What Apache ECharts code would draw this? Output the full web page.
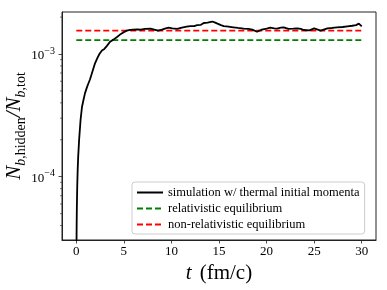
<!DOCTYPE html>
<html>
<head>
<meta charset="utf-8">
<script src="https://cdn.jsdelivr.net/npm/echarts@6/dist/echarts.min.js"></script>
<style>
html,body{margin:0;padding:0;background:#fff;}
#c{width:387px;height:290px;}
</style>
</head>
<body>
<div id="c"></div>
<script>
// ---- data ----
var time = [0, 0.02, 0.04, 0.06, 0.1, 0.15, 0.2, 0.3, 0.45, 0.6, 0.75, 0.92, 1.1, 1.25, 1.44, 1.7, 1.97, 2.2, 2.43, 2.7, 2.95, 3.2, 3.55, 3.9, 4.25, 4.6, 4.95, 5.3, 5.66, 6.0, 6.4, 6.8, 7.2, 7.8, 8.2, 8.6, 9.0, 9.4, 9.7, 10.1, 10.6, 11.1, 11.6, 12.0, 12.4, 12.7, 13.1, 13.4, 13.8, 14.3, 14.6, 14.8, 15.2, 15.5, 16.0, 16.5, 17.0, 17.6, 18.1, 18.5, 19.0, 19.5, 20.0, 20.4, 20.8, 21.1, 21.5, 21.8, 22.3, 22.8, 23.2, 23.6, 23.9, 24.5, 25.0, 25.3, 25.7, 26.0, 26.4, 26.9, 27.4, 28.0, 28.5, 29.0, 29.4, 29.7, 30.0];
var simulation = [1e-6, 2.5e-5, 4e-5, 5.5e-5, 8.3e-5, 1.15e-4, 1.45e-4, 2.0e-4, 2.9e-4, 3.7e-4, 4.2e-4, 4.8e-4, 5.3e-4, 5.7e-4, 6.2e-4, 7.2e-4, 8.4e-4, 9.2e-4, 1.0e-3, 1.07e-3, 1.1e-3, 1.16e-3, 1.26e-3, 1.31e-3, 1.37e-3, 1.44e-3, 1.5e-3, 1.55e-3, 1.57e-3, 1.58e-3, 1.59e-3, 1.58e-3, 1.6e-3, 1.61e-3, 1.58e-3, 1.55e-3, 1.58e-3, 1.62e-3, 1.64e-3, 1.62e-3, 1.6e-3, 1.64e-3, 1.67e-3, 1.69e-3, 1.69e-3, 1.72e-3, 1.73e-3, 1.79e-3, 1.8e-3, 1.84e-3, 1.8e-3, 1.76e-3, 1.72e-3, 1.69e-3, 1.67e-3, 1.65e-3, 1.63e-3, 1.61e-3, 1.6e-3, 1.58e-3, 1.52e-3, 1.58e-3, 1.61e-3, 1.64e-3, 1.62e-3, 1.61e-3, 1.64e-3, 1.65e-3, 1.6e-3, 1.61e-3, 1.62e-3, 1.6e-3, 1.57e-3, 1.56e-3, 1.62e-3, 1.59e-3, 1.55e-3, 1.58e-3, 1.62e-3, 1.63e-3, 1.65e-3, 1.66e-3, 1.68e-3, 1.7e-3, 1.72e-3, 1.77e-3, 1.68e-3];
var tStart = 0, tEnd = 30;
var relativisticEq = 1.30e-3;
var nonRelativisticEq = 1.55e-3;
var xTicks = [0, 5, 10, 15, 20, 25, 30];
var yMajorTicks = [1e-4, 1e-3];
var yMinorTicks = [4e-5, 5e-5, 6e-5, 7e-5, 8e-5, 9e-5, 2e-4, 3e-4, 4e-4, 5e-4, 6e-4, 7e-4, 8e-4, 9e-4, 2e-3];
var seriesNames = ['simulation w/ thermal initial momenta', 'relativistic equilibrium', 'non-relativistic equilibrium'];

var xMin = -1.5, xMax = 31.5, yMin = 3.05e-5, yMax = 2.2e-3;
var FONT = 'Liberation Serif';

var simData = time.map(function (t, i) { return [t, simulation[i]]; });

var chart = echarts.init(document.getElementById('c'), null, {renderer: 'canvas'});
chart.setOption({
  animation: false,
  backgroundColor: '#fff',
  grid: {left: 62, right: 11, top: 12, bottom: 50, outerBoundsMode: 'none', containLabel: false,
         show: true, borderColor: '#222', borderWidth: 1, backgroundColor: 'transparent'},
  xAxis: {
    type: 'value', min: xMin, max: xMax,
    name: '{i|t}{r|(fm/c)}', nameLocation: 'middle', nameGap: 23,
    nameTextStyle: {rich: {
      i: {fontFamily: FONT, fontStyle: 'italic', fontSize: 21, color: '#000', padding: [0, 8, 0, 0]},
      r: {fontFamily: FONT, fontSize: 21, color: '#000'}
    }},
    axisLine: {show: true, onZero: false, lineStyle: {color: '#222', width: 1}},
    axisTick: {show: true, length: 3.5, lineStyle: {color: '#222', width: 0.8}, customValues: xTicks},
    axisLabel: {customValues: xTicks, fontFamily: FONT, fontSize: 13, color: '#000', margin: 5},
    splitLine: {show: false}
  },
  yAxis: {
    type: 'log', logBase: 10, min: yMin, max: yMax,
    name: '{n|N}{bi|b}{s|,hidden}{n|/N}{bi|b}{s|,tot}', nameLocation: 'middle', nameRotate: 90, nameGap: 36,
    nameMoveOverlap: false,
    nameTextStyle: {rich: {
      n: {fontFamily: FONT, fontStyle: 'italic', fontSize: 21, lineHeight: 22, verticalAlign: 'top', color: '#000'},
      bi: {fontFamily: FONT, fontStyle: 'italic', fontSize: 14, lineHeight: 14, padding: [10, 0, 0, 0], verticalAlign: 'top', color: '#000'},
      s: {fontFamily: FONT, fontSize: 14, lineHeight: 14, padding: [10, 0, 0, 0], verticalAlign: 'top', color: '#000'}
    }},
    axisLine: {show: true, onZero: false, lineStyle: {color: '#222', width: 1}},
    axisTick: {show: true, length: 3.5, lineStyle: {color: '#222', width: 0.8}, customValues: yMajorTicks},
    axisLabel: {
      customValues: yMajorTicks, margin: 7,
      formatter: function (v) {
        var e = Math.round(Math.log(v) / Math.LN10);
        return '{b|10}{sup|\u2212' + Math.abs(e) + '}';
      },
      rich: {
        b: {fontFamily: FONT, fontSize: 13, lineHeight: 16, verticalAlign: 'bottom', color: '#000'},
        sup: {fontFamily: FONT, fontSize: 10, lineHeight: 10, verticalAlign: 'top', color: '#000'}
      }
    },
    splitLine: {show: false}
  },
  legend: {
    left: 132, top: 182, orient: 'vertical',
    padding: [4, 5, 3, 4], itemGap: 3, itemWidth: 26, itemHeight: 12,
    backgroundColor: 'rgba(255,255,255,0.8)', borderColor: '#cccccc', borderWidth: 1, borderRadius: 3,
    textStyle: {fontFamily: FONT, fontSize: 12.5, color: '#000'},
    itemStyle: {opacity: 0},
    data: seriesNames
  },
  series: [
    {
      name: seriesNames[0], type: 'line', data: simData, showSymbol: false, symbol: 'none',
      lineStyle: {color: '#000', width: 1.8}, itemStyle: {color: '#000'}, z: 3
    },
    {
      name: seriesNames[1], type: 'line', data: [[tStart, relativisticEq], [tEnd, relativisticEq]], showSymbol: false, symbol: 'none',
      lineStyle: {color: '#008000', width: 1.8, type: [6, 3]}, itemStyle: {color: '#008000'}, z: 2
    },
    {
      name: seriesNames[2], type: 'line', data: [[tStart, nonRelativisticEq], [tEnd, nonRelativisticEq]], showSymbol: false, symbol: 'none',
      lineStyle: {color: '#ff0000', width: 1.8, type: [6, 3]}, itemStyle: {color: '#ff0000'}, z: 2
    },
    {
      type: 'custom', clip: false, silent: true,
      data: yMinorTicks.map(function (v) { return [xMin, v]; }),
      renderItem: function (params, api) {
        var p = api.coord([api.value(0), api.value(1)]);
        return {type: 'line', shape: {x1: p[0] - 2, y1: p[1], x2: p[0], y2: p[1]}, style: {stroke: '#222', lineWidth: 0.6}};
      }
    }
  ]
});
</script>
</body>
</html>
